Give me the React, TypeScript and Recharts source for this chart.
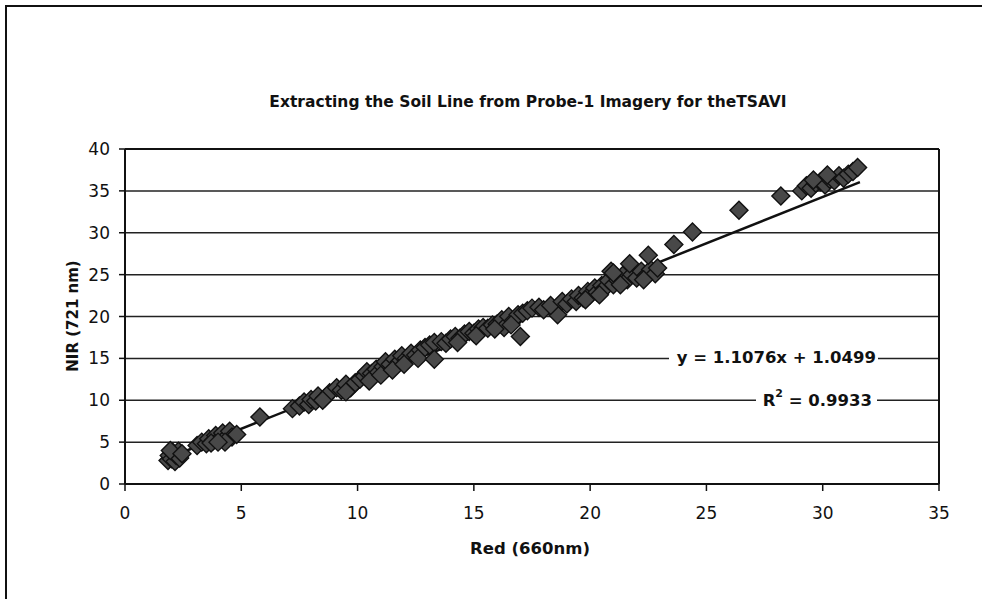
import React from "react";
import {
  ScatterChart,
  Scatter,
  XAxis,
  YAxis,
  CartesianGrid,
  ReferenceLine,
  Customized,
} from "recharts";

// Red (660 nm) reflectance of each sampled soil pixel
const redValues: number[] = [
  1.85, 1.9, 2.0, 2.05, 2.15, 2.2, 2.3, 2.35, 1.95, 2.45,
  3.1, 3.3, 3.5, 3.6, 3.8, 3.9, 4.1, 4.2, 4.4, 4.5, 4.6, 4.8, 4.3, 3.7, 4.0,
  5.8,
  7.2, 7.5, 7.7, 7.9, 8.0, 8.2, 8.3, 8.6, 8.8, 9.1, 9.3, 9.5, 9.7, 8.5, 9.5,
  9.9, 10.1, 10.3, 10.4, 10.6, 10.8, 10.9, 11.1, 11.2, 11.4, 11.6, 11.8, 11.9,
  12.1, 12.3, 12.5, 12.7, 12.9, 13.1, 13.3, 13.6, 13.8, 14.0, 14.2, 14.4, 14.6,
  14.8, 15.0, 15.2, 15.4, 15.6, 15.8, 16.0, 16.2, 16.3, 16.5, 16.7, 16.9, 17.1,
  17.3, 17.5, 17.8, 18.0,
  10.5, 11.0, 11.5, 12.0, 12.6, 14.3, 15.1, 15.9, 16.6,
  13.3, 17.0, 18.6,
  18.3, 18.8, 19.0, 19.2, 19.4, 19.5, 19.7, 19.9, 20.0, 20.2, 20.3, 20.5, 20.6,
  20.8, 21.0, 20.9, 19.8, 20.4,
  21.2, 21.4, 21.6, 21.8, 22.0, 22.2, 22.4, 22.6, 22.8, 22.9, 21.0, 21.3, 22.3,
  21.7, 22.5,
  23.6, 24.4, 26.4, 28.2,
  29.1, 29.3, 29.5, 29.7, 29.9, 30.1, 30.3, 30.5, 30.7, 30.9, 31.1, 31.3, 31.5,
  30.2, 29.6,
];

// NIR (721 nm) reflectance of the same pixels
const nirValues: number[] = [
  2.8, 3.4, 3.0, 3.8, 2.7, 3.4, 3.9, 3.1, 4.0, 3.6,
  4.6, 5.0, 4.8, 5.4, 5.2, 5.8, 5.5, 6.1, 5.7, 6.3, 5.6, 5.9, 5.0, 4.9, 5.0,
  8.0,
  9.0, 9.3, 9.8, 9.5, 10.1, 9.9, 10.5, 10.3, 10.9, 11.5, 11.2, 11.9, 11.5, 10.0, 11.0,
  12.1, 12.5, 12.9, 13.4, 13.2, 13.7, 13.3, 14.0, 14.6, 14.3, 14.9, 14.6, 15.3,
  15.0, 15.6, 15.4, 16.0, 16.3, 16.6, 16.9, 17.0, 16.8, 17.3, 17.6, 17.4, 17.9,
  18.2, 18.0, 18.5, 18.7, 18.6, 19.0, 19.1, 19.6, 18.7, 20.0, 19.5, 20.2, 20.4,
  20.7, 21.0, 21.1, 20.8,
  12.3, 13.0, 13.6, 14.3, 15.0, 16.9, 17.7, 18.5, 19.0,
  14.9, 17.6, 20.2,
  21.3, 21.8, 21.5, 22.1, 21.8, 22.5, 22.2, 23.0, 22.6, 23.4, 22.9, 23.7, 23.3,
  24.3, 23.8, 25.4, 22.0, 22.6,
  24.3, 24.9, 24.4, 25.0, 24.6, 25.4, 24.9, 25.6, 25.1, 25.8, 25.2, 23.8, 24.4,
  26.3, 27.3,
  28.6, 30.1, 32.7, 34.4,
  35.0, 35.6, 35.3, 35.9, 36.1, 35.7, 36.4, 36.2, 36.8, 36.5, 37.0, 37.3, 37.8,
  36.9, 36.3,
];

const xTicks = [0, 5, 10, 15, 20, 25, 30, 35];
const yTicks = [0, 5, 10, 15, 20, 25, 30, 35, 40];

// Least-squares soil line reported on the chart
const slope = 1.1076;
const intercept = 1.0499;
const rSquared = 0.9933;
const fitRange = [1.8, 31.6];

const points = redValues.map((x, i) => ({ x, y: nirValues[i] }));
const fitSegment = fitRange.map((x) => ({ x, y: slope * x + intercept }));

const FONT = "'DejaVu Sans', Arial, Helvetica, sans-serif";

const DiamondMark = (props: any) => {
  const { cx, cy } = props;
  if (cx == null || cy == null) return null;
  const r = 9;
  return (
    <polygon
      points={`${cx},${cy - r} ${cx + r},${cy} ${cx},${cy + r} ${cx - r},${cy}`}
      fill="#484848"
      stroke="#111"
      strokeWidth={1.4}
    />
  );
};

const Annotations = () => (
  <g fontFamily={FONT} fill="#111">
    <text x={528} y={102} textAnchor="middle" dominantBaseline="central" fontSize={15.5} fontWeight="bold">
      Extracting the Soil Line from Probe-1 Imagery for theTSAVI
    </text>
    <text x={530} y={548} textAnchor="middle" dominantBaseline="central" fontSize={16.5} fontWeight="bold">
      Red (660nm)
    </text>
    <text
      x={73}
      y={316}
      textAnchor="middle"
      dominantBaseline="central"
      fontSize={15}
      fontWeight="bold"
      transform="rotate(-90 73 316)"
    >
      NIR (721 nm)
    </text>
    {/* trendline label: white backing clears the gridlines under each line of text */}
    <rect x={669} y={348} width={209} height={19} fill="#fff" />
    <rect x={756} y={389} width={121} height={21} fill="#fff" />
    <g fontSize={16.5} fontWeight="bold" textAnchor="end">
      <text x={876} y={357} dominantBaseline="central">
        {`y = ${slope}x + ${intercept}`}
      </text>
      <text x={872} y={400} dominantBaseline="central">
        R<tspan dy={-7} fontSize={11}>2</tspan>
        <tspan dy={7}>{` = ${rSquared}`}</tspan>
      </text>
    </g>
  </g>
);

export default function App() {
  return (
    <div style={{ position: "absolute", left: 0, top: 0, width: 982, height: 599, background: "#fff" }}>
      <div
        style={{
          position: "absolute",
          left: 5,
          top: 5,
          width: 990,
          height: 600,
          borderLeft: "2px solid #111",
          borderTop: "2px solid #111",
        }}
      />
      <ScatterChart
        width={982}
        height={599}
        margin={{ top: 149, right: 43, bottom: 65, left: 0 }}
        style={{ position: "absolute", left: 0, top: 0 }}
      >
        <CartesianGrid horizontal vertical={false} stroke="#222" strokeWidth={1.5} />
        <XAxis
          type="number"
          dataKey="x"
          domain={[0, 35]}
          ticks={xTicks}
          interval={0}
          height={50}
          tickSize={7}
          tickMargin={16}
          axisLine={{ stroke: "#111", strokeWidth: 2 }}
          tickLine={{ stroke: "#111", strokeWidth: 1.5 }}
          tick={{ fill: "#111", fontSize: 17, fontFamily: FONT }}
          allowDataOverflow
        />
        <YAxis
          type="number"
          dataKey="y"
          domain={[0, 40]}
          ticks={yTicks}
          interval={0}
          width={125}
          tickSize={6}
          tickMargin={9}
          axisLine={{ stroke: "#111", strokeWidth: 2 }}
          tickLine={{ stroke: "#111", strokeWidth: 1.5 }}
          tick={{ fill: "#111", fontSize: 17, fontFamily: FONT }}
          allowDataOverflow
        />
        <ReferenceLine y={40} stroke="#111" strokeWidth={2} />
        <ReferenceLine x={35} stroke="#111" strokeWidth={2} />
        <Scatter data={points} shape={DiamondMark} isAnimationActive={false} />
        <ReferenceLine
          segment={fitSegment}
          stroke="#111"
          strokeWidth={2.5}
          ifOverflow="visible"
        />
        <Customized component={Annotations} />
      </ScatterChart>
    </div>
  );
}
